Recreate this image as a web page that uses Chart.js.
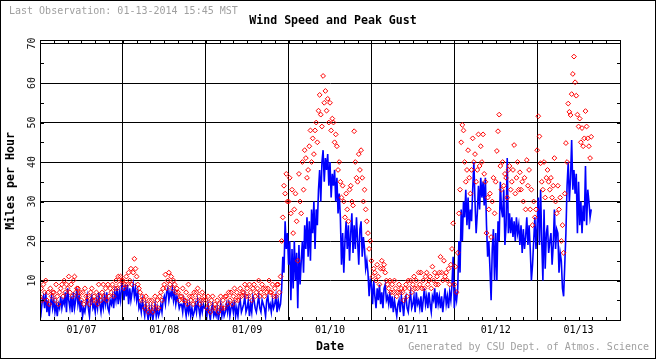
<!DOCTYPE html>
<html><head><meta charset="utf-8">
<script src="https://cdn.jsdelivr.net/npm/chart.js@4.4.1/dist/chart.umd.min.js"></script>
<style>html,body{margin:0;padding:0;background:#fff;overflow:hidden}canvas{display:block}</style>
</head><body><canvas id="c" width="660" height="360"></canvas>
<script>
// ---- data (readings every 20 minutes, mph) ----
const dayLabels = ['01/07','01/08','01/09','01/10','01/11','01/12','01/13'];
const yTickLabels = [10,20,30,40,50,60,70];
const samplesPerHour = 3;

const windJan07 = [4,2,5, 6,3,7, 2,5,1, 4,6,3, 5,2,4, 1,4,3, 6,3,5, 4,7,2, 8,5,3, 6,2,7, 3,5,8, 4,6,2, 5,1,3, 2,4,6, 3,1,5, 6,3,4, 2,5,3, 7,4,2, 5,3,6, 4,7,3, 2,5,4, 6,3,7, 5,8,4, 7,5,9];
const windJan08 = [8,5,9, 6,9,4, 8,5,7, 9,6,8, 5,7,3, 4,2,5, 3,1,4, 2,0,3, 1,3,0, 2,4,1, 3,1,2, 4,2,5, 6,4,7, 8,5,7, 6,8,5, 7,4,6, 5,3,4, 4,2,5, 3,1,4, 2,4,1, 3,1,2, 4,2,5, 3,1,4, 2,4,3];
const windJan09 = [3,1,4, 2,0,3, 4,1,2, 1,3,0, 2,4,1, 3,1,2, 4,2,5, 1,3,4, 2,5,1, 3,1,4, 5,2,3, 4,6,2, 3,5,1, 4,2,6, 5,3,2, 4,6,3, 2,5,4, 3,1,5, 6,3,4, 2,5,3, 4,6,2, 5,3,4, 8,16,12, 25,18,22];
const windJan10 = [14,20,5, 18,8,20, 10,17,3, 19,9,15, 20,12,24, 18,26,16, 25,15,28, 22,30,18, 28,24,33, 38,30,40, 43,35,41, 38,42,34, 40,31,37, 34,38,30, 36,27,32, 26,14,22, 12,20,25, 18,24,15, 22,27,17, 24,18,26, 20,14,23, 25,16,21, 18,13,15, 12,6,10];
const windJan11 = [9,4,10, 6,3,8, 5,9,4, 7,3,8, 9,5,6, 4,7,3, 6,2,5, 3,1,4, 5,2,6, 4,1,5, 6,3,2, 5,7,3, 4,6,2, 7,4,5, 3,6,2, 5,8,4, 6,3,7, 4,2,6, 5,8,3, 7,4,6, 3,6,2, 5,8,4, 6,3,7, 5,9,16];
const windJan12 = [3,7,5, 8,20,12, 28,20,30, 26,33,24, 31,23,28, 25,33,40, 30,22,27, 34,28,36, 31,35,29, 36,24,16, 20,13,5, 18,23,10, 22,10,25, 20,35,28, 26,33,19, 24,41,22, 27,22,26, 21,25,20, 26,22,24, 19,24,17, 23,18,21, 26,19,24, 18,10,14, 20,26,18];
const windJan13 = [24,31,19, 33,20,10, 28,13,22, 24,17,20, 22,14,19, 28,18,23, 22,12,17, 15,8,6, 14,22,34, 40,30,36, 45.6,33,38, 32,37,22, 35,24,30, 22,29,25, 39,24,33, 30,26,28];

const gustJan07 = [6,8,5, 9,7,10, 5,7,4, 8,6,7, 7,5,9, 6,4,7, 8,9,6, 10,7,9, 8,11,7, 9,6,10, 11,7,8, 8,6,7, 5,7,4, 8,6,5, 6,4,7, 8,5,6, 5,7,4, 9,6,5, 7,9,6, 8,5,9, 6,8,7, 9,6,8, 10,8,11, 9,11,10];
const gustJan08 = [10,8,9, 11,9,12, 10,13,9, 12,15.5,13, 11,9,8, 7,5,6, 5,3,6, 4,2,5, 3,5,2, 4,6,3, 5,3,6, 7,5,8, 9,11.5,8, 10,12,9, 11,8,10, 9,7,8, 7,5,6, 6,8,5, 5,7,4, 9,6,5, 6,4,7, 5,7,8, 6,4,5, 7,5,6];
const gustJan09 = [5,3,6, 4,2,5, 6,3,4, 3,5,2, 4,6,3, 5,3,6, 6,4,7, 5,7,4, 6,8,5, 7,5,6, 8,6,7, 7,9,6, 8,6,9, 7,5,8, 9,6,7, 8,10,6, 7,9,8, 6,8,7, 8,10,7, 7,9,6, 8,6,9, 9,7,11, 20,26,34, 32,37,30];
const gustJan10 = [30,36,27, 33,22,28, 32,25,15, 37,30,27, 40,33,43, 41,36,38, 44,48,40, 46,42,48, 50,45,53, 57,52,49, 61.8,55,58, 53,56,50, 55,48,51, 50,45,47, 44,38,40, 35,31,34, 30,26,32, 28,25,33, 34,30,29, 47.8,40,36, 35,42,38, 43,36,30, 33,28,25, 22,18,20];
const gustJan11 = [15,11,13, 12,10,14, 11,9,13, 15,13,14, 12,10,9, 8,10,7, 9,7,10, 8,6,7, 9,7,8, 7,5,8, 9,6,10, 8,10,7, 9,11,8, 10,8,12, 9,12,8, 10,8,11, 12,9,10, 11,8,13.5, 10,12,9, 11,9,12, 16,12,10, 15,11,12, 10,13,9, 14,18,24.5];
const gustJan12 = [9,13.5,7, 17,27,33, 45,49.4,48, 40,35,38, 43,36,32, 38,46,40, 42,35,38, 47,39,44, 40,47,37, 35,22,31, 28,32,21, 30,36,27, 35,42.8,47.8, 52,39,33, 40,34,37, 36,31,38, 39,33,35, 38,44.3,32, 36,40,33, 37.4,33,35, 30,36,28, 40.5,34,38, 28,33,24, 30,26,28];
const gustJan13 = [43,51.6,46.5, 39.7,35,33, 40,31,36, 38,35,33, 36,31,34, 41,30,27, 34,28,31, 20,24,17, 32,44.8,40, 54.8,52.7,51.9, 57.2,62.3,66.7, 60.2,56.8,52, 49,51,45, 48.6,44,46, 52.9,49,46, 44,41,46.4];

const windAll = [].concat(windJan07, windJan08, windJan09, windJan10, windJan11, windJan12, windJan13);
const gustAll = [].concat(gustJan07, gustJan08, gustJan09, gustJan10, gustJan11, gustJan12, gustJan13);
const windPoints = windAll.map((v, i) => ({x: i / samplesPerHour, y: v}));
const gustPoints = gustAll.map((v, i) => ({x: i / samplesPerHour, y: v}));

const MONO = '"DejaVu Sans Mono", "Liberation Mono", monospace';

const decor = {
  id: 'decor',
  beforeDraw(chart) {
    const ctx = chart.ctx;
    ctx.save();
    ctx.fillStyle = '#fff';
    ctx.fillRect(0, 0, chart.width, chart.height);
    ctx.strokeStyle = '#000';
    ctx.lineWidth = 1;
    ctx.strokeRect(0.5, 0.5, 655, 358);
    ctx.textBaseline = 'middle';
    ctx.fillStyle = '#a0a0a0';
    ctx.font = '10px ' + MONO;
    ctx.textAlign = 'left';
    ctx.fillText('Last Observation: 01-13-2014 15:45 MST', 9, 11);
    ctx.textAlign = 'right';
    ctx.fillText('Generated by CSU Dept. of Atmos. Science', 649, 347);
    ctx.fillStyle = '#000';
    ctx.font = 'bold 11.6px ' + MONO;
    ctx.textAlign = 'center';
    ctx.fillText('Wind Speed and Peak Gust', 333, 21);
    ctx.fillText('Date', 330, 347);
    ctx.save();
    ctx.translate(11, 181);
    ctx.rotate(-Math.PI / 2);
    ctx.fillText('Miles per Hour', 0, 0);
    ctx.restore();
    ctx.restore();
  },
  afterDraw(chart) {
    const ctx = chart.ctx;
    const a = chart.chartArea;
    const xs = chart.scales.x, ys = chart.scales.y;
    const L = Math.round(a.left), R = Math.round(a.right), T = Math.round(a.top), B = Math.round(a.bottom);
    ctx.save();
    ctx.strokeStyle = '#000';
    ctx.lineWidth = 1;
    ctx.strokeRect(L + 0.5, T + 0.5, R - L, B - T);
    ctx.beginPath();
    for (let h = 4; h < 168; h += 4) {
      const px = Math.round(xs.getPixelForValue(h)) + 0.5;
      ctx.moveTo(px, T); ctx.lineTo(px, T + 4);
      ctx.moveTo(px, B + 1); ctx.lineTo(px, B - 3);
    }
    for (let v = 5; v < 70; v += 5) {
      const py = Math.round(ys.getPixelForValue(v)) + 0.5;
      ctx.moveTo(L, py); ctx.lineTo(L + 4, py);
      ctx.moveTo(R + 1, py); ctx.lineTo(R - 3, py);
    }
    ctx.stroke();
    ctx.fillStyle = '#111';
    ctx.font = '10px ' + MONO;
    ctx.textAlign = 'center';
    ctx.textBaseline = 'middle';
    yTickLabels.forEach(v => {
      const py = ys.getPixelForValue(v);
      ctx.save();
      ctx.translate(32, py);
      ctx.rotate(-Math.PI / 2);
      ctx.fillText(String(v), 0, 0);
      ctx.restore();
    });
    ctx.restore();
  }
};

new Chart(document.getElementById('c'), {
  type: 'line',
  data: {
    datasets: [
      {label: 'Peak Gust', data: gustPoints, showLine: false, pointStyle: 'rectRot', pointRadius: 2.4,
       pointBorderWidth: 1, pointBorderColor: '#ff0000', pointBackgroundColor: 'rgba(255,255,255,0)', borderColor: '#ff0000', order: 0},
      {label: 'Wind Speed', data: windPoints, borderColor: '#0000ff', borderWidth: 1.6, pointRadius: 0, tension: 0, fill: false, order: 1}
    ]
  },
  options: {
    responsive: false, animation: false, devicePixelRatio: 1, events: [],
    layout: {padding: {top: 40, right: 40, left: 0, bottom: 0}},
    plugins: {legend: {display: false}, tooltip: {enabled: false}, title: {display: false}},
    scales: {
      x: {
        type: 'linear', min: 0, max: 168,
        afterBuildTicks: s => { const t = []; for (let h = 0; h <= 168; h += 4) t.push({value: h}); s.ticks = t; },
        afterFit: s => { s.height = 40; },
        ticks: {autoSkip: false, maxRotation: 0, minRotation: 0, padding: 4, color: '#000',
                font: {family: MONO, size: 10},
                callback: v => (v % 24 === 12) ? dayLabels[(v - 12) / 24] : ''},
        grid: {color: c => (c.tick && c.tick.value % 24 === 0) ? '#000' : 'rgba(0,0,0,0)', lineWidth: 1, drawTicks: false},
        border: {display: true, color: '#000', width: 1}
      },
      y: {
        type: 'linear', min: 0, max: 70.9,
        afterBuildTicks: s => { const t = []; for (let v = 0; v <= 70; v += 5) t.push({value: v}); s.ticks = t; },
        afterFit: s => { s.width = 40; },
        ticks: {display: false},
        grid: {color: c => (c.tick && c.tick.value % 10 === 0) ? '#000' : 'rgba(0,0,0,0)', lineWidth: 1, drawTicks: false},
        border: {display: true, color: '#000', width: 1}
      }
    }
  },
  plugins: [decor]
});
</script>
</body></html>
